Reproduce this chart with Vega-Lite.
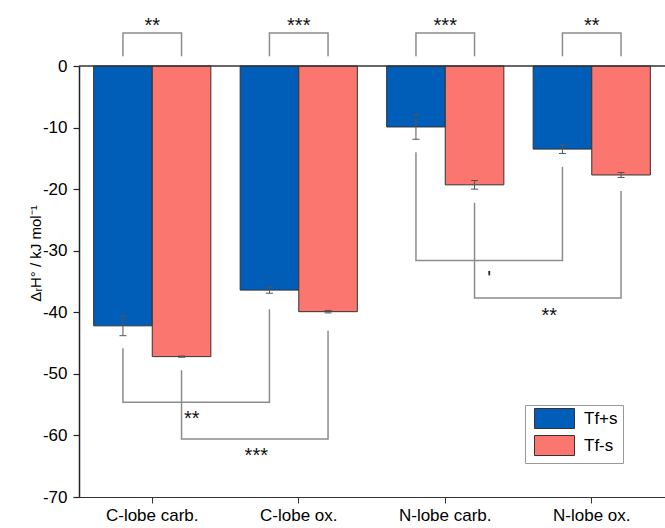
{
  "$schema": "https://vega.github.io/schema/vega-lite/v6.json",
  "autosize": {"type": "none"},
  "width": 586,
  "height": 431,
  "padding": {"left": 79, "top": 66, "right": 0, "bottom": 31},
  "background": "white",
  "config": {
    "view": {"stroke": null},
    "font": "Liberation Sans",
    "axisY": {
      "orient": "left",
      "titleFontSize": 15, "titleFontWeight": "normal", "titleColor": "black", "titleFont": "Liberation Sans",
      "titleX": -39, "titleY": 187, "titleAngle": -90, "titleAlign": "center", "titleBaseline": "alphabetic",
      "labelFontSize": 17, "labelColor": "black", "labelPadding": 6, "labelFont": "Liberation Sans",
      "tickColor": "#222222", "domainColor": "#222222", "domainWidth": 1.5, "grid": false
    }
  },
  "datasets": {
    "bars": [
      {"cat": "C-lobe carb.", "series": "Tf+s", "value": -42.2, "lo": -43.8, "hi": -40.6},
      {"cat": "C-lobe carb.", "series": "Tf-s", "value": -47.2, "lo": -47.3, "hi": -47.1},
      {"cat": "C-lobe ox.", "series": "Tf+s", "value": -36.4, "lo": -36.9, "hi": -35.9},
      {"cat": "C-lobe ox.", "series": "Tf-s", "value": -39.9, "lo": -40.1, "hi": -39.7},
      {"cat": "N-lobe carb.", "series": "Tf+s", "value": -9.9, "lo": -11.9, "hi": -7.9},
      {"cat": "N-lobe carb.", "series": "Tf-s", "value": -19.3, "lo": -20.0, "hi": -18.6},
      {"cat": "N-lobe ox.", "series": "Tf+s", "value": -13.5, "lo": -14.2, "hi": -12.8},
      {"cat": "N-lobe ox.", "series": "Tf-s", "value": -17.7, "lo": -18.1, "hi": -17.3}
    ],
    "brackets": [
      {"b": "t1", "s": 1, "x": 0.3, "y": 1.6}, {"b": "t1", "s": 2, "x": 0.3, "y": 5.36}, {"b": "t1", "s": 3, "x": 0.7, "y": 5.36}, {"b": "t1", "s": 4, "x": 0.7, "y": 1.6},
      {"b": "t2", "s": 1, "x": 1.3, "y": 1.6}, {"b": "t2", "s": 2, "x": 1.3, "y": 5.36}, {"b": "t2", "s": 3, "x": 1.7, "y": 5.36}, {"b": "t2", "s": 4, "x": 1.7, "y": 1.6},
      {"b": "t3", "s": 1, "x": 2.3, "y": 1.6}, {"b": "t3", "s": 2, "x": 2.3, "y": 5.36}, {"b": "t3", "s": 3, "x": 2.7, "y": 5.36}, {"b": "t3", "s": 4, "x": 2.7, "y": 1.6},
      {"b": "t4", "s": 1, "x": 3.3, "y": 1.6}, {"b": "t4", "s": 2, "x": 3.3, "y": 5.36}, {"b": "t4", "s": 3, "x": 3.7, "y": 5.36}, {"b": "t4", "s": 4, "x": 3.7, "y": 1.6},
      {"b": "b1", "s": 1, "x": 0.3, "y": -45.85}, {"b": "b1", "s": 2, "x": 0.3, "y": -54.6}, {"b": "b1", "s": 3, "x": 1.3, "y": -54.6}, {"b": "b1", "s": 4, "x": 1.3, "y": -39.5},
      {"b": "b2", "s": 1, "x": 0.7, "y": -49.4}, {"b": "b2", "s": 2, "x": 0.7, "y": -60.6}, {"b": "b2", "s": 3, "x": 1.7, "y": -60.6}, {"b": "b2", "s": 4, "x": 1.7, "y": -43.0},
      {"b": "b3", "s": 1, "x": 2.3, "y": -14.0}, {"b": "b3", "s": 2, "x": 2.3, "y": -31.6}, {"b": "b3", "s": 3, "x": 3.3, "y": -31.6}, {"b": "b3", "s": 4, "x": 3.3, "y": -16.35},
      {"b": "b4", "s": 1, "x": 2.7, "y": -22.2}, {"b": "b4", "s": 2, "x": 2.7, "y": -37.7}, {"b": "b4", "s": 3, "x": 3.7, "y": -37.7}, {"b": "b4", "s": 4, "x": 3.7, "y": -20.3}
    ],
    "labels": [
      {"x": 0.5, "y": 5.6, "t": "**"},
      {"x": 1.5, "y": 5.6, "t": "***"},
      {"x": 2.5, "y": 5.6, "t": "***"},
      {"x": 3.5, "y": 5.6, "t": "**"},
      {"x": 0.77, "y": -58.3, "t": "**"},
      {"x": 1.21, "y": -64.3, "t": "***"},
      {"x": 2.8, "y": -35.5, "t": "'"},
      {"x": 3.21, "y": -41.5, "t": "**"}
    ]
  },
  "resolve": {"scale": {"x": "independent"}},
  "layer": [
    {
      "data": {"name": "bars"},
      "mark": {"type": "bar", "stroke": "#333333", "strokeWidth": 1},
      "encoding": {
        "x": {
          "field": "cat", "type": "nominal",
          "sort": ["C-lobe carb.", "C-lobe ox.", "N-lobe carb.", "N-lobe ox."],
          "scale": {"paddingInner": 0.2, "paddingOuter": 0.1},
          "axis": {"title": null, "orient": "bottom", "labelAngle": 0, "labelFontSize": 17, "labelColor": "black", "labelPadding": 4, "tickSize": 6, "tickColor": "#333333", "domainColor": "#333333", "domainWidth": 1.2, "labelFont": "Liberation Sans"}
        },
        "xOffset": {"field": "series", "type": "nominal", "sort": ["Tf+s", "Tf-s"], "scale": {"paddingInner": 0, "paddingOuter": 0}},
        "y": {
          "field": "value", "type": "quantitative",
          "title": "ΔᵣH° / kJ mol⁻¹",
          "scale": {"domain": [-70, 0], "nice": false, "zero": false},
          "axis": {
            "values": [-70, -65, -60, -55, -50, -45, -40, -35, -30, -25, -20, -15, -10, -5, 0],
            "labelExpr": "datum.value % 10 === 0 ? replace(datum.label, '−', '-') : ''",
            "tickSize": 6,
            "tickWidth": {"condition": {"test": "datum.value % 10 !== 0", "value": 1}, "value": 1.2}
          }
        },
        "color": {
          "field": "series", "type": "nominal",
          "scale": {"domain": ["Tf+s", "Tf-s"], "range": ["#015EB8", "#FA766F"]},
          "legend": {
            "orient": "none", "legendX": 446, "legendY": 339, "title": null,
            "symbolType": "M-4,-2H4V2H-4Z", "symbolSize": 100,
            "symbolStrokeColor": "#333333", "symbolStrokeWidth": 1, "symbolOpacity": 1, "symbolOffset": 16,
            "labelFontSize": 17, "labelColor": "black", "labelFont": "Liberation Sans", "labelOffset": 21,
            "labelExpr": "datum.label + '   '",
            "strokeColor": "#999999", "fillColor": "white", "padding": 5, "rowPadding": 2
          }
        }
      }
    },
    {
      "data": {"name": "bars"},
      "mark": {"type": "rule", "color": "#555555", "strokeWidth": 1},
      "encoding": {
        "x": {"field": "cat", "type": "nominal", "sort": ["C-lobe carb.", "C-lobe ox.", "N-lobe carb.", "N-lobe ox."], "scale": {"paddingInner": 0.2, "paddingOuter": 0.1}, "axis": null},
        "xOffset": {"field": "series", "type": "nominal", "sort": ["Tf+s", "Tf-s"]},
        "y": {"field": "lo", "type": "quantitative", "title": "ΔᵣH° / kJ mol⁻¹"},
        "y2": {"field": "hi"}
      }
    },
    {
      "data": {"name": "bars"},
      "mark": {"type": "tick", "orient": "horizontal", "size": 7, "thickness": 1, "color": "#555555", "opacity": 1},
      "encoding": {
        "x": {"field": "cat", "type": "nominal", "sort": ["C-lobe carb.", "C-lobe ox.", "N-lobe carb.", "N-lobe ox."], "scale": {"paddingInner": 0.2, "paddingOuter": 0.1}, "axis": null},
        "xOffset": {"field": "series", "type": "nominal", "sort": ["Tf+s", "Tf-s"]},
        "y": {"field": "lo", "type": "quantitative", "title": "ΔᵣH° / kJ mol⁻¹"}
      }
    },
    {
      "data": {"name": "bars"},
      "mark": {"type": "tick", "orient": "horizontal", "size": 7, "thickness": 1, "color": "#555555", "opacity": 1},
      "encoding": {
        "x": {"field": "cat", "type": "nominal", "sort": ["C-lobe carb.", "C-lobe ox.", "N-lobe carb.", "N-lobe ox."], "scale": {"paddingInner": 0.2, "paddingOuter": 0.1}, "axis": null},
        "xOffset": {"field": "series", "type": "nominal", "sort": ["Tf+s", "Tf-s"]},
        "y": {"field": "hi", "type": "quantitative", "title": "ΔᵣH° / kJ mol⁻¹"}
      }
    },
    {
      "data": {"name": "brackets"},
      "mark": {"type": "line", "color": "#8c8c8c", "strokeWidth": 1.5, "strokeJoin": "miter", "strokeCap": "butt"},
      "encoding": {
        "x": {"field": "x", "type": "quantitative", "scale": {"domain": [0, 4], "nice": false, "zero": false}, "axis": null},
        "y": {"field": "y", "type": "quantitative", "title": "ΔᵣH° / kJ mol⁻¹"},
        "detail": {"field": "b", "type": "nominal"},
        "order": {"field": "s", "type": "quantitative"}
      }
    },
    {
      "data": {"name": "labels"},
      "mark": {"type": "text", "fontSize": 20, "font": "Liberation Sans", "color": "#111111", "baseline": "alphabetic", "align": "center"},
      "encoding": {
        "x": {"field": "x", "type": "quantitative", "scale": {"domain": [0, 4], "nice": false, "zero": false}, "axis": null},
        "y": {"field": "y", "type": "quantitative", "title": "ΔᵣH° / kJ mol⁻¹"},
        "text": {"field": "t"}
      }
    },
    {
      "data": {"values": [{"zero": 0}]},
      "mark": {"type": "rule", "color": "#333333", "strokeWidth": 1.3},
      "encoding": {"y": {"field": "zero", "type": "quantitative", "title": "ΔᵣH° / kJ mol⁻¹"}}
    }
  ]
}
